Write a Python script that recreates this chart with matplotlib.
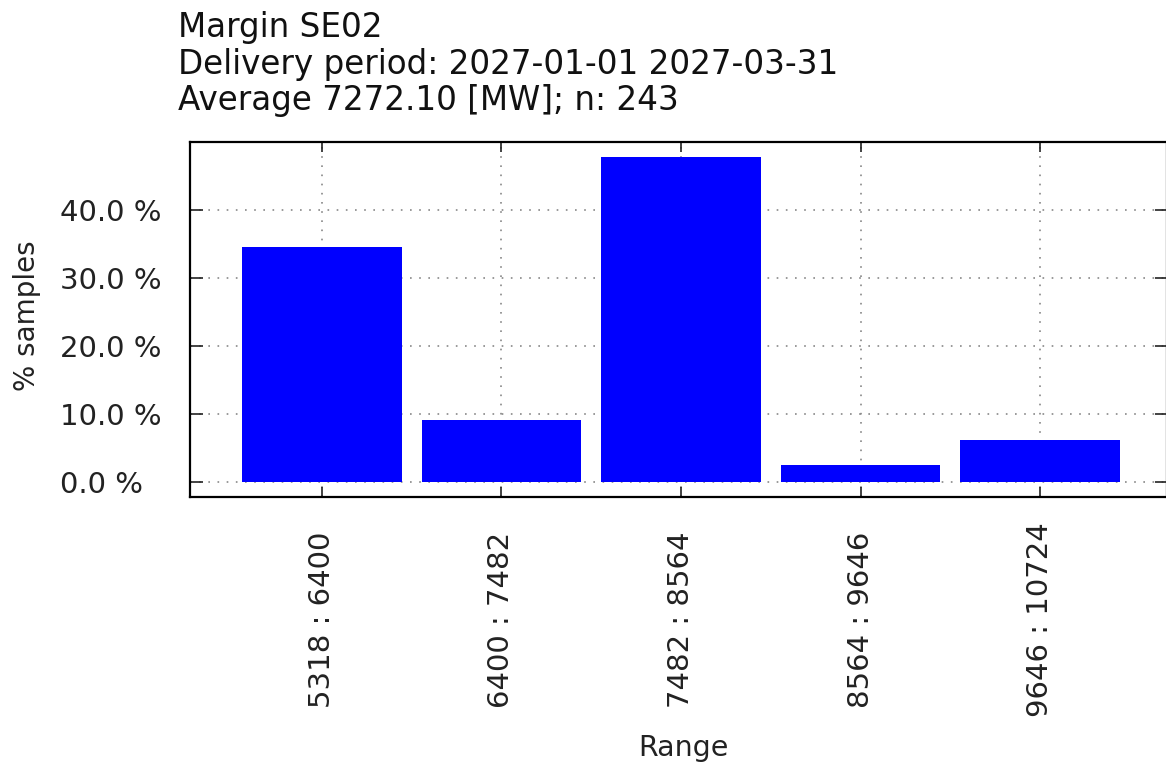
import matplotlib
matplotlib.use("Agg")
import matplotlib.pyplot as plt
import numpy as np

# Histogram data
ranges = ["5318 : 6400", "6400 : 7482", "7482 : 8564", "8564 : 9646", "9646 : 10724"]
counts = [84, 22, 116, 6, 15]
n_samples = 243
average_mw = 7272.10

title_lines = [
    "Margin SE02",
    "Delivery period: 2027-01-01 2027-03-31",
    f"Average {average_mw:.2f} [MW]; n: {n_samples}",
]

W, H = 1166, 765
fig = plt.figure(figsize=(W / 100, H / 100), dpi=100)

# axes box in pixels: left 190, right ~1167, top 142, bottom 497
ax = fig.add_axes([190 / W, 1 - 497 / H, (1167 - 190) / W, (497 - 142) / H])

pct = np.array(counts) / n_samples * 100
x = np.arange(len(ranges))
ax.bar(x, pct, width=0.89, color="#0000ff", zorder=2)

ax.set_xlim(-0.735, 4.707)
ax.set_ylim(-2.2, 50)
ax.set_yticks([0, 10, 20, 30, 40])
ax.set_yticklabels([f"{v:.1f} %" for v in [0, 10, 20, 30, 40]])
ax.set_xticks(x)
ax.set_xticklabels(ranges)

ax.grid(True, color="#888888", linestyle=(0, (1, 4.5)), linewidth=1.2, zorder=0)
ax.set_axisbelow(True)

for s in ax.spines.values():
    s.set_linewidth(1.6)
    s.set_color("black")

ax.tick_params(axis="y", direction="in", length=9, width=1.2, left=True, right=True,
               labelsize=21, pad=93.6, colors="#222222", labelcolor="#222222")
ax.tick_params(axis="x", direction="in", length=7, width=1.2, bottom=True, top=True,
               labelsize=21, pad=88.5, colors="#222222", labelcolor="#222222")
for lab in ax.get_yticklabels():
    lab.set_ha("left")
for lab in ax.get_xticklabels():
    lab.set_rotation(90)
    lab.set_ha("center")
    lab.set_va("center")

fig.text(27 / W, 1 - 316 / H, "% samples", rotation=90, ha="center", va="center",
         fontsize=20, color="#222222")
fig.text(683 / W, 1 - 748 / H, "Range", ha="center", va="center",
         fontsize=20.5, color="#222222")

for line, base in zip(title_lines, [37, 74, 110]):
    fig.text(178 / W, 1 - base / H, line, ha="left", va="baseline",
             fontsize=23.5, color="#111111")

fig.savefig("out.png", dpi=100)
